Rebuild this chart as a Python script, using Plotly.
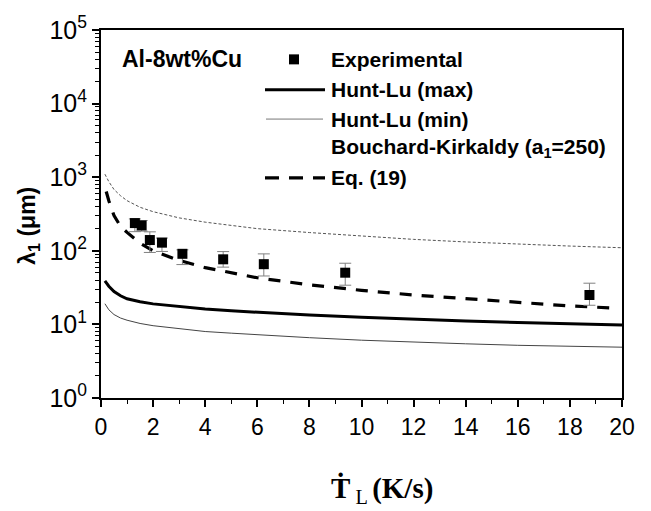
import plotly.graph_objects as go

# ---------------- data ----------------
exp_x = [1.3, 1.56, 1.875, 2.34, 3.125, 4.69, 6.25, 9.375, 18.75]
exp_y = [238, 221, 140, 129, 91, 76.6, 65.8, 50.4, 25.1]
exp_err_plus = [33, 37, 41, 20, 12, 21, 25, 17.4, 11.2]
exp_err_minus = [56, 36, 45, 31, 26, 16.6, 20.3, 16.3, 6.9]

curve_x = [0.15, 0.3, 0.5, 0.75, 1, 1.5, 2, 3, 4, 5, 6, 8, 10, 12, 14, 16, 18, 20]
hunt_max = [39, 33, 28, 24.5, 22.3, 20.3, 19, 17.4, 16.2, 15.3, 14.6, 13.4, 12.5, 11.7, 11.1, 10.6, 10.2, 9.85]
hunt_min = [19.1, 15.8, 13.6, 12.2, 11.4, 10.3, 9.6, 8.7, 8.0, 7.6, 7.2, 6.6, 6.1, 5.7, 5.45, 5.2, 5.05, 4.9]
bouchard = [1100, 870, 680, 560, 480, 390, 340, 280, 245, 220, 200, 177, 158, 143, 132, 123, 116, 110]

eq19_x = [0.2, 0.3, 0.5, 0.75, 1, 1.5, 2, 3, 4, 5, 6, 8, 10, 12, 14, 16, 18, 19.7]
eq19_y = [640, 480, 300, 215, 178, 127, 100, 74, 59, 50, 43, 34.5, 29, 25.1, 22.3, 19.8, 17.8, 16.7]

y_tick_vals = [1, 10, 100, 1000, 10000, 100000]
y_tick_text = ["10<sup>0</sup>", "10<sup>1</sup>", "10<sup>2</sup>", "10<sup>3</sup>", "10<sup>4</sup>", "10<sup>5</sup>"]
y_minor_vals = [m * 10 ** k for k in range(5) for m in range(2, 10)]

legend_labels = ["Experimental", "Hunt-Lu (max)", "Hunt-Lu (min)",
                 "Bouchard-Kirkaldy (a<sub>1</sub>=250)", "Eq. (19)"]

# ---------------- figure ----------------
W, H = 651, 511
L, R, T, B = 101, 29, 22, 113
pw, ph = W - L - R, H - T - B


def px(xp):
    return (xp - L) / pw


def py(yp):
    return (H - B - yp) / ph


fig = go.Figure()

fig.add_trace(go.Scatter(x=curve_x, y=bouchard, mode="lines",
                         line=dict(color="#555555", width=1, dash="3px,2px"),
                         name="Bouchard-Kirkaldy"))
fig.add_trace(go.Scatter(x=curve_x, y=hunt_min, mode="lines",
                         line=dict(color="#444444", width=1), name="Hunt-Lu (min)"))
fig.add_trace(go.Scatter(x=curve_x, y=hunt_max, mode="lines",
                         line=dict(color="black", width=3), name="Hunt-Lu (max)"))
fig.add_trace(go.Scatter(x=eq19_x, y=eq19_y, mode="lines",
                         line=dict(color="black", width=3.2, dash="12px,10px"), name="Eq. (19)"))
fig.add_trace(go.Scatter(x=exp_x, y=exp_y, mode="markers",
                         marker=dict(symbol="square", size=10, color="black"),
                         error_y=dict(type="data", symmetric=False, array=exp_err_plus,
                                      arrayminus=exp_err_minus, color="#808080",
                                      thickness=1, width=6),
                         name="Experimental"))

font_family = "Liberation Sans, Arial, sans-serif"

fig.update_layout(
    width=W, height=H,
    margin=dict(l=L, r=R, t=T, b=B),
    paper_bgcolor="white", plot_bgcolor="white",
    showlegend=False,
    font=dict(family=font_family, color="black"),
    xaxis=dict(range=[0, 20], tickmode="linear", tick0=0, dtick=2,
               ticks="outside", ticklen=7, tickwidth=1.5, tickcolor="black",
               minor=dict(ticks="outside", ticklen=4, tickwidth=1.2, dtick=1, tickcolor="black"),
               showline=True, linecolor="black", linewidth=2, mirror=True,
               showgrid=False, zeroline=False,
               tickfont=dict(size=23, family=font_family, color="black")),
    yaxis=dict(type="log", range=[0, 5], tickvals=y_tick_vals, ticktext=y_tick_text,
               ticks="outside", ticklen=7, tickwidth=1.5, tickcolor="black",
               minor=dict(ticks="outside", ticklen=4, tickwidth=1.2, tickvals=y_minor_vals,
                          tickcolor="black"),
               showline=True, linecolor="black", linewidth=2, mirror=True,
               showgrid=False, zeroline=False,
               tickfont=dict(size=25, family=font_family, color="black")),
)

# legend samples
fig.add_shape(type="rect", xref="paper", yref="paper",
              xsizemode="pixel", ysizemode="pixel",
              xanchor=px(294), yanchor=py(52), x0=-5, x1=5, y0=-5, y1=5,
              fillcolor="black", line=dict(width=0))
fig.add_shape(type="line", xref="paper", yref="paper",
              x0=px(265), x1=px(325), y0=py(83), y1=py(83),
              line=dict(color="black", width=3))
fig.add_shape(type="line", xref="paper", yref="paper",
              x0=px(266), x1=px(323), y0=py(113), y1=py(113),
              line=dict(color="#777777", width=1))
fig.add_shape(type="line", xref="paper", yref="paper",
              x0=px(265), x1=px(325), y0=py(173), y1=py(173),
              line=dict(color="black", width=3.2, dash="14px,10px"))

legend_y = [52, 83, 113, 143, 173]
for lab, yy in zip(legend_labels, legend_y):
    fig.add_annotation(xref="paper", yref="paper", x=px(329), y=py(yy),
                       xanchor="left", yanchor="middle", showarrow=False,
                       text="<b>" + lab + "</b>",
                       font=dict(size=21, family=font_family, color="black"))

fig.add_annotation(xref="paper", yref="paper", x=px(120), y=py(52),
                   xanchor="left", yanchor="middle", showarrow=False,
                   text="<b>Al-8wt%Cu</b>",
                   font=dict(size=23, family=font_family, color="black"))

# y-axis title
fig.add_annotation(xref="paper", yref="paper", x=px(29), y=py(222),
                   xanchor="center", yanchor="middle", showarrow=False, textangle=-90,
                   text="<b>λ<sub>1</sub> (μm)</b>",
                   font=dict(size=23, family=font_family, color="black"))

# x-axis title (T with dot above)
serif = "Liberation Serif, DejaVu Serif, Times New Roman, serif"
fig.add_annotation(xref="paper", yref="paper", x=px(329), y=py(492),
                   xanchor="left", yanchor="middle", showarrow=False,
                   text="<b>Ṫ</b><sub> L </sub><b>(K/s)</b>",
                   font=dict(size=29, family=serif, color="black"))

fig.write_html("out.html")
